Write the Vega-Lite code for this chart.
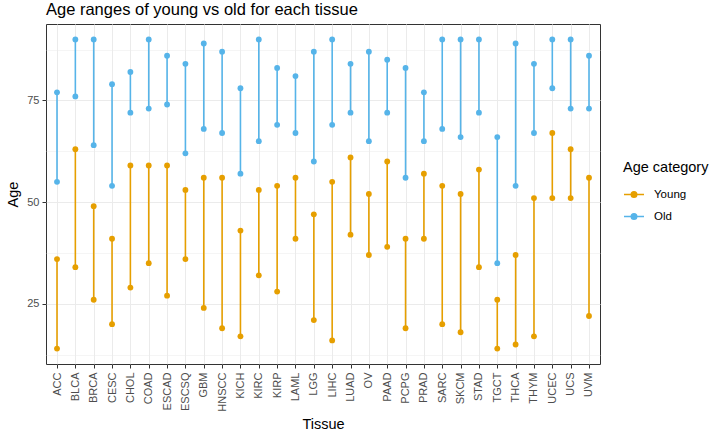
{
  "$schema": "https://vega.github.io/schema/vega-lite/v6.json",
  "autosize": "none",
  "width": 554,
  "height": 340,
  "padding": {"left": 46, "top": 24, "right": 116, "bottom": 74},
  "background": "white",
  "title": {
    "text": "Age ranges of young vs old for each tissue",
    "anchor": "start",
    "frame": "group",
    "offset": 6,
    "fontSize": 16.5,
    "fontWeight": "normal",
    "font": "Liberation Sans",
    "color": "#000000"
  },
  "config": {
    "font": "Liberation Sans",
    "view": {"stroke": "#333333", "strokeWidth": 1},
    "axis": {
      "domain": false,
      "gridColor": "#EBEBEB",
      "tickColor": "#333333",
      "tickSize": 4,
      "labelColor": "#4D4D4D",
      "labelFontSize": 11,
      "labelFont": "Liberation Sans",
      "titleFont": "Liberation Sans",
      "titleFontSize": 14.5,
      "titleFontWeight": "normal",
      "titleColor": "#000000"
    }
  },
  "data": {
    "values": [
      {"tissue": "ACC", "category": "Young", "age": 14}, {"tissue": "ACC", "category": "Young", "age": 36}, {"tissue": "ACC", "category": "Old", "age": 55}, {"tissue": "ACC", "category": "Old", "age": 77},
      {"tissue": "BLCA", "category": "Young", "age": 34}, {"tissue": "BLCA", "category": "Young", "age": 63}, {"tissue": "BLCA", "category": "Old", "age": 76}, {"tissue": "BLCA", "category": "Old", "age": 90},
      {"tissue": "BRCA", "category": "Young", "age": 26}, {"tissue": "BRCA", "category": "Young", "age": 49}, {"tissue": "BRCA", "category": "Old", "age": 64}, {"tissue": "BRCA", "category": "Old", "age": 90},
      {"tissue": "CESC", "category": "Young", "age": 20}, {"tissue": "CESC", "category": "Young", "age": 41}, {"tissue": "CESC", "category": "Old", "age": 54}, {"tissue": "CESC", "category": "Old", "age": 79},
      {"tissue": "CHOL", "category": "Young", "age": 29}, {"tissue": "CHOL", "category": "Young", "age": 59}, {"tissue": "CHOL", "category": "Old", "age": 72}, {"tissue": "CHOL", "category": "Old", "age": 82},
      {"tissue": "COAD", "category": "Young", "age": 35}, {"tissue": "COAD", "category": "Young", "age": 59}, {"tissue": "COAD", "category": "Old", "age": 73}, {"tissue": "COAD", "category": "Old", "age": 90},
      {"tissue": "ESCAD", "category": "Young", "age": 27}, {"tissue": "ESCAD", "category": "Young", "age": 59}, {"tissue": "ESCAD", "category": "Old", "age": 74}, {"tissue": "ESCAD", "category": "Old", "age": 86},
      {"tissue": "ESCSQ", "category": "Young", "age": 36}, {"tissue": "ESCSQ", "category": "Young", "age": 53}, {"tissue": "ESCSQ", "category": "Old", "age": 62}, {"tissue": "ESCSQ", "category": "Old", "age": 84},
      {"tissue": "GBM", "category": "Young", "age": 24}, {"tissue": "GBM", "category": "Young", "age": 56}, {"tissue": "GBM", "category": "Old", "age": 68}, {"tissue": "GBM", "category": "Old", "age": 89},
      {"tissue": "HNSCC", "category": "Young", "age": 19}, {"tissue": "HNSCC", "category": "Young", "age": 56}, {"tissue": "HNSCC", "category": "Old", "age": 67}, {"tissue": "HNSCC", "category": "Old", "age": 87},
      {"tissue": "KICH", "category": "Young", "age": 17}, {"tissue": "KICH", "category": "Young", "age": 43}, {"tissue": "KICH", "category": "Old", "age": 57}, {"tissue": "KICH", "category": "Old", "age": 78},
      {"tissue": "KIRC", "category": "Young", "age": 32}, {"tissue": "KIRC", "category": "Young", "age": 53}, {"tissue": "KIRC", "category": "Old", "age": 65}, {"tissue": "KIRC", "category": "Old", "age": 90},
      {"tissue": "KIRP", "category": "Young", "age": 28}, {"tissue": "KIRP", "category": "Young", "age": 54}, {"tissue": "KIRP", "category": "Old", "age": 69}, {"tissue": "KIRP", "category": "Old", "age": 83},
      {"tissue": "LAML", "category": "Young", "age": 41}, {"tissue": "LAML", "category": "Young", "age": 56}, {"tissue": "LAML", "category": "Old", "age": 67}, {"tissue": "LAML", "category": "Old", "age": 81},
      {"tissue": "LGG", "category": "Young", "age": 21}, {"tissue": "LGG", "category": "Young", "age": 47}, {"tissue": "LGG", "category": "Old", "age": 60}, {"tissue": "LGG", "category": "Old", "age": 87},
      {"tissue": "LIHC", "category": "Young", "age": 16}, {"tissue": "LIHC", "category": "Young", "age": 55}, {"tissue": "LIHC", "category": "Old", "age": 69}, {"tissue": "LIHC", "category": "Old", "age": 90},
      {"tissue": "LUAD", "category": "Young", "age": 42}, {"tissue": "LUAD", "category": "Young", "age": 61}, {"tissue": "LUAD", "category": "Old", "age": 72}, {"tissue": "LUAD", "category": "Old", "age": 84},
      {"tissue": "OV", "category": "Young", "age": 37}, {"tissue": "OV", "category": "Young", "age": 52}, {"tissue": "OV", "category": "Old", "age": 65}, {"tissue": "OV", "category": "Old", "age": 87},
      {"tissue": "PAAD", "category": "Young", "age": 39}, {"tissue": "PAAD", "category": "Young", "age": 60}, {"tissue": "PAAD", "category": "Old", "age": 72}, {"tissue": "PAAD", "category": "Old", "age": 85},
      {"tissue": "PCPG", "category": "Young", "age": 19}, {"tissue": "PCPG", "category": "Young", "age": 41}, {"tissue": "PCPG", "category": "Old", "age": 56}, {"tissue": "PCPG", "category": "Old", "age": 83},
      {"tissue": "PRAD", "category": "Young", "age": 41}, {"tissue": "PRAD", "category": "Young", "age": 57}, {"tissue": "PRAD", "category": "Old", "age": 65}, {"tissue": "PRAD", "category": "Old", "age": 77},
      {"tissue": "SARC", "category": "Young", "age": 20}, {"tissue": "SARC", "category": "Young", "age": 54}, {"tissue": "SARC", "category": "Old", "age": 68}, {"tissue": "SARC", "category": "Old", "age": 90},
      {"tissue": "SKCM", "category": "Young", "age": 18}, {"tissue": "SKCM", "category": "Young", "age": 52}, {"tissue": "SKCM", "category": "Old", "age": 66}, {"tissue": "SKCM", "category": "Old", "age": 90},
      {"tissue": "STAD", "category": "Young", "age": 34}, {"tissue": "STAD", "category": "Young", "age": 58}, {"tissue": "STAD", "category": "Old", "age": 72}, {"tissue": "STAD", "category": "Old", "age": 90},
      {"tissue": "TGCT", "category": "Young", "age": 14}, {"tissue": "TGCT", "category": "Young", "age": 26}, {"tissue": "TGCT", "category": "Old", "age": 35}, {"tissue": "TGCT", "category": "Old", "age": 66},
      {"tissue": "THCA", "category": "Young", "age": 15}, {"tissue": "THCA", "category": "Young", "age": 37}, {"tissue": "THCA", "category": "Old", "age": 54}, {"tissue": "THCA", "category": "Old", "age": 89},
      {"tissue": "THYM", "category": "Young", "age": 17}, {"tissue": "THYM", "category": "Young", "age": 51}, {"tissue": "THYM", "category": "Old", "age": 67}, {"tissue": "THYM", "category": "Old", "age": 84},
      {"tissue": "UCEC", "category": "Young", "age": 51}, {"tissue": "UCEC", "category": "Young", "age": 67}, {"tissue": "UCEC", "category": "Old", "age": 78}, {"tissue": "UCEC", "category": "Old", "age": 90},
      {"tissue": "UCS", "category": "Young", "age": 51}, {"tissue": "UCS", "category": "Young", "age": 63}, {"tissue": "UCS", "category": "Old", "age": 73}, {"tissue": "UCS", "category": "Old", "age": 90},
      {"tissue": "UVM", "category": "Young", "age": 22}, {"tissue": "UVM", "category": "Young", "age": 56}, {"tissue": "UVM", "category": "Old", "age": 73}, {"tissue": "UVM", "category": "Old", "age": 86}
    ]
  },
  "encoding": {
    "x": {
      "field": "tissue",
      "type": "nominal",
      "sort": null,
      "scale": {"type": "point", "padding": 0.6},
      "axis": {
        "title": "Tissue",
        "labelAngle": -90,
        "labelPadding": 4,
        "titlePadding": 6,
        "grid": true,
        "gridWidth": 1
      }
    },
    "color": {
      "field": "category",
      "type": "nominal",
      "scale": {"domain": ["Young", "Old"], "range": ["#E69F00", "#56B4E9"]},
      "legend": {
        "title": "Age category",
        "orient": "none",
        "legendX": 577,
        "legendY": 137,
        "padding": 0,
        "titleFontSize": 14.5,
        "titleFontWeight": "normal",
        "titleColor": "#000000",
        "titleFont": "Liberation Sans",
        "titlePadding": 8,
        "labelFontSize": 11.5,
        "labelColor": "#000000",
        "labelFont": "Liberation Sans",
        "labelOffset": 9,
        "rowPadding": 5,
        "symbolType": "M-1,0H1M0.27,0A0.27,0.27,0,1,1,-0.27,0A0.27,0.27,0,1,1,0.27,0Z",
        "symbolSize": 400,
        "symbolStrokeWidth": 1.6,
        "symbolOpacity": 1,
        "encode": {
          "symbols": {
            "update": {
              "fill": {"scale": "color", "field": "value"},
              "stroke": {"scale": "color", "field": "value"},
              "opacity": {"value": 1}
            }
          }
        }
      }
    }
  },
  "layer": [
    {
      "mark": {"type": "rule", "strokeWidth": 1.6},
      "encoding": {
        "y": {
          "aggregate": "min",
          "field": "age",
          "type": "quantitative",
          "scale": {"domain": [10.2, 93.8], "nice": false, "zero": false},
          "axis": {
            "title": "Age",
            "values": [12.5, 25, 37.5, 50, 62.5, 75, 87.5],
            "labelExpr": "datum.value % 25 === 0 ? datum.label : ''",
            "labelPadding": 3,
            "titlePadding": 6,
            "tickColor": {"condition": {"test": "datum.value % 25 === 0", "value": "#333333"}, "value": "transparent"},
            "gridWidth": {"condition": {"test": "datum.value % 25 === 0", "value": 1}, "value": 0.5}
          }
        },
        "y2": {"aggregate": "max", "field": "age"}
      }
    },
    {
      "mark": {"type": "point", "filled": true, "size": 34, "opacity": 1},
      "encoding": {
        "y": {"field": "age", "type": "quantitative"}
      }
    }
  ]
}
